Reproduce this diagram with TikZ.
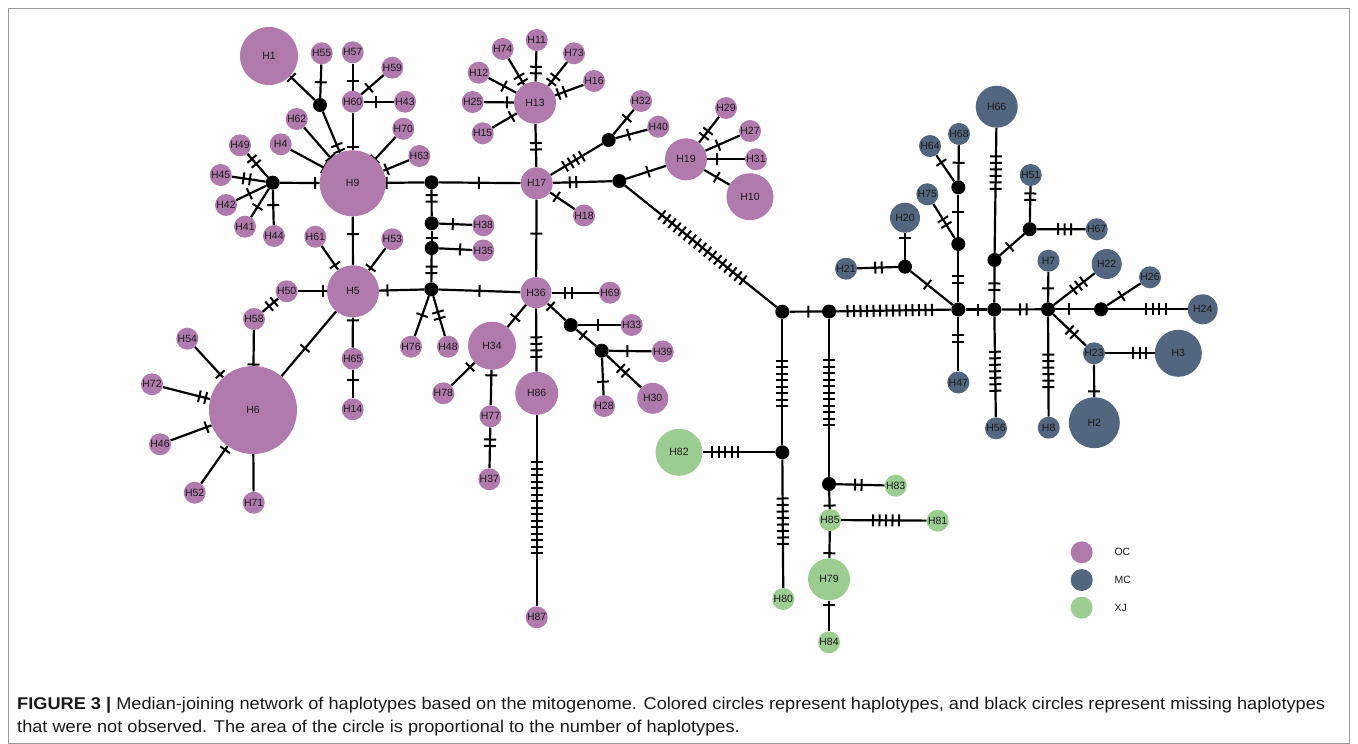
\documentclass[tikz,border=0pt]{standalone}
\usepackage{fontspec}
\setmainfont{Liberation Sans}
\newfontfamily\capfamily[FakeStretch=1.07]{Liberation Sans}
\usetikzlibrary{calc,backgrounds}
\definecolor{ocpurple}{HTML}{B07AAD}
\definecolor{mcblue}{HTML}{52667F}
\definecolor{xjgreen}{HTML}{9ACD8F}
\definecolor{framegray}{HTML}{9A9A9A}
\definecolor{darktext}{HTML}{1A1A1A}
\newcommand{\hapfont}{\fontsize{10.5}{12}\selectfont}
\newcommand{\capfont}{\capfamily\fontsize{17}{23}\selectfont}
\newcommand{\tickgap}{6.5pt}
\newcommand{\ticklen}{6pt}
% edge between two haplotypes with #3 mutation ticks centred at fraction #4
\newcommand{\mutedge}[4]{%
  \draw[link] (#1) -- (#2);
  \ifnum#3>0
    \foreach \k in {1,...,#3}{
      \coordinate (tk) at ($(#1)!#4!(#2)$);
      \coordinate (tk) at ($(tk)!{(\k-(#3+1)/2)*\tickgap}!(#2)$);
      \draw[mutation] ($(tk)!\ticklen!90:(#2)$) -- ($(tk)!\ticklen!-90:(#2)$);
    }
  \fi
}

\begin{document}
\begin{tikzpicture}[
    x=1pt, y=-1pt,
    every node/.style={font=\hapfont, text=darktext},
    hap/.style={circle, inner sep=0pt, minimum size=22pt},
    oc/.style={hap, fill=ocpurple},
    mc/.style={hap, fill=mcblue},
    xj/.style={hap, fill=xjgreen},
    miss/.style={circle, fill=black, inner sep=0pt, minimum size=14pt},
    link/.style={line width=2.2pt, black},
    mutation/.style={line width=2pt, black},
]
\useasboundingbox (0,0) rectangle (1358,744);
\draw[framegray, line width=0.8pt] (8.5,8.5) rectangle (1349.5,743.5);

% --- OC: H9 cluster ---
\node[oc, minimum size=58pt] (H1) at (269,56) {H1};
\node[oc] (H55) at (321.7,53.3) {H55};
\node[oc] (H57) at (352.7,52.3) {H57};
\node[oc] (H59) at (392.3,67.7) {H59};
\node[oc] (H60) at (352.7,101.7) {H60};
\node[oc] (H43) at (405,101.7) {H43};
\node[oc] (H62) at (296.7,119) {H62};
\node[oc] (H70) at (403.3,128.7) {H70};
\node[oc] (H4) at (280.7,144.3) {H4};
\node[oc] (H49) at (240,145.3) {H49};
\node[oc] (H63) at (419.3,156) {H63};
\node[oc] (H45) at (220.7,175) {H45};
\node[oc, minimum size=66pt] (H9) at (352.7,183.3) {H9};
\node[oc] (H42) at (226,205) {H42};
\node[oc] (H41) at (245,226.7) {H41};
\node[oc] (H44) at (274,236) {H44};

% --- OC: H5 / H6 cluster ---
\node[oc] (H61) at (315.3,236.7) {H61};
\node[oc] (H53) at (392.3,239.3) {H53};
\node[oc, minimum size=52pt] (H5) at (353,291.3) {H5};
\node[oc] (H50) at (286.7,291.3) {H50};
\node[oc] (H58) at (254,319) {H58};
\node[oc] (H76) at (411,346.7) {H76};
\node[oc] (H48) at (448,346.7) {H48};
\node[oc] (H54) at (187.3,338.7) {H54};
\node[oc] (H65) at (352.7,358.7) {H65};
\node[oc] (H72) at (152,384.3) {H72};
\node[oc, minimum size=88pt] (H6) at (253,410) {H6};
\node[oc] (H78) at (443.3,393.3) {H78};
\node[oc] (H14) at (352.7,409.3) {H14};
\node[oc] (H46) at (160,444.3) {H46};
\node[oc] (H52) at (194.7,492.7) {H52};
\node[oc] (H71) at (253.7,502.7) {H71};

% --- OC: H13 / H17 / H19 ---
\node[oc] (H11) at (536.7,40) {H11};
\node[oc] (H74) at (502.7,49) {H74};
\node[oc] (H73) at (574,53.3) {H73};
\node[oc] (H12) at (478.7,72.7) {H12};
\node[oc] (H16) at (594,81) {H16};
\node[oc] (H25) at (472.7,102) {H25};
\node[oc, minimum size=42pt] (H13) at (535,102.7) {H13};
\node[oc] (H15) at (482.7,133.3) {H15};
\node[oc] (H32) at (641,101) {H32};
\node[oc] (H40) at (658.3,126.7) {H40};
\node[oc, minimum size=42pt] (H19) at (686,159.3) {H19};
\node[oc] (H29) at (726,108) {H29};
\node[oc] (H27) at (750,131) {H27};
\node[oc] (H31) at (756,159.3) {H31};
\node[oc, minimum size=47pt] (H10) at (750,196.7) {H10};
\node[oc, minimum size=32pt] (H17) at (536.7,183.3) {H17};
\node[oc] (H18) at (584,215.5) {H18};
\node[oc] (H38) at (483.3,225.3) {H38};
\node[oc] (H35) at (483.3,250.5) {H35};

% --- OC: H36 cluster ---
\node[oc, minimum size=31pt] (H36) at (536,292.7) {H36};
\node[oc] (H69) at (610,292.7) {H69};
\node[oc] (H33) at (631.7,325) {H33};
\node[oc, minimum size=48pt] (H34) at (492,345.7) {H34};
\node[oc] (H39) at (662.7,351.5) {H39};
\node[oc, minimum size=43pt] (H86) at (536.7,393.3) {H86};
\node[oc] (H28) at (604,406) {H28};
\node[oc, minimum size=31pt] (H30) at (652.7,398.3) {H30};
\node[oc] (H77) at (490.5,416.3) {H77};
\node[oc] (H37) at (489.3,479.3) {H37};
\node[oc] (H87) at (536.7,617.3) {H87};

% --- XJ ---
\node[xj, minimum size=47pt] (H82) at (679,452.3) {H82};
\node[xj] (H83) at (895.7,485.7) {H83};
\node[xj] (H85) at (830,520) {H85};
\node[xj] (H81) at (937.7,520.7) {H81};
\node[xj, minimum size=42pt] (H79) at (829,579.3) {H79};
\node[xj] (H80) at (783.3,599) {H80};
\node[xj] (H84) at (829,642.3) {H84};

% --- MC ---
\node[mc, minimum size=42pt] (H66) at (996.7,106.7) {H66};
\node[mc] (H68) at (959,134) {H68};
\node[mc] (H64) at (930,146) {H64};
\node[mc] (H51) at (1030.7,175) {H51};
\node[mc] (H75) at (927.3,194.3) {H75};
\node[mc, minimum size=30pt] (H20) at (905,217.7) {H20};
\node[mc] (H7) at (1048.5,260.7) {H7};
\node[mc] (H21) at (846,268.7) {H21};
\node[mc] (H67) at (1096.7,229.3) {H67};
\node[mc, minimum size=30pt] (H22) at (1106.7,264) {H22};
\node[mc] (H26) at (1150,277.3) {H26};
\node[mc, minimum size=30pt] (H24) at (1202.7,309.3) {H24};
\node[mc] (H23) at (1094,353.3) {H23};
\node[mc, minimum size=47pt] (H3) at (1178.3,353.3) {H3};
\node[mc] (H47) at (958.3,382.5) {H47};
\node[mc] (H56) at (996,428.3) {H56};
\node[mc] (H8) at (1048.7,427.7) {H8};
\node[mc, minimum size=51pt] (H2) at (1094.3,422.7) {H2};

% --- missing (median) haplotypes ---
\node[miss] (m1) at (320,105) {};
\node[miss] (m2) at (272.7,182.7) {};
\node[miss] (m3) at (431.5,182.3) {};
\node[miss] (m7) at (431.7,223.3) {};
\node[miss] (m8) at (431.7,248) {};
\node[miss] (m4) at (431.3,289.3) {};
\node[miss] (m5) at (608.7,140) {};
\node[miss] (m6) at (619.3,181) {};
\node[miss] (m9) at (570.7,325) {};
\node[miss] (m10) at (601.7,350.7) {};
\node[miss] (m11) at (782.3,311.7) {};
\node[miss] (m12) at (829,311.5) {};
\node[miss] (m13) at (958.3,309.5) {};
\node[miss] (m14) at (782.3,452.3) {};
\node[miss] (m15) at (829,484) {};
\node[miss] (m16) at (958.3,187.3) {};
\node[miss] (m17) at (1029.7,229.2) {};
\node[miss] (m18) at (958.3,244) {};
\node[miss] (m19) at (994.5,260) {};
\node[miss] (m20) at (905,266.7) {};
\node[miss] (m21) at (994.3,309.5) {};
\node[miss] (m22) at (1048,309.3) {};
\node[miss] (m23) at (1101,309.3) {};

% --- Edges with mutation ticks ---
\begin{scope}[on background layer]
% H9 cluster
\mutedge{H1}{m1}{1}{0.44}
\mutedge{H55}{m1}{1}{0.56}
\mutedge{m1}{H9}{2}{0.55}
\mutedge{H57}{H60}{1}{0.58}
\mutedge{H59}{H60}{1}{0.59}
\mutedge{H60}{H43}{1}{0.44}
\mutedge{H60}{H9}{1}{0.55}
\mutedge{H62}{H9}{1}{0.6}
\mutedge{H4}{H9}{1}{0.6}
\mutedge{H70}{H9}{1}{0.56}
\mutedge{H63}{H9}{1}{0.49}
\mutedge{m2}{H9}{1}{0.53}
\mutedge{H49}{m2}{2}{0.43}
\mutedge{H45}{m2}{2}{0.5}
\mutedge{H42}{m2}{1}{0.5}
\mutedge{H41}{m2}{1}{0.45}
\mutedge{H44}{m2}{1}{0.58}
\mutedge{H9}{m3}{1}{0.43}
\mutedge{H9}{H5}{1}{0.47}
% central spine
\mutedge{m3}{m7}{2}{0.39}
\mutedge{m7}{m8}{1}{0.6}
\mutedge{m8}{m4}{2}{0.53}
\mutedge{m7}{H38}{1}{0.41}
\mutedge{m8}{H35}{1}{0.55}
\mutedge{m3}{H17}{1}{0.45}
\mutedge{H5}{m4}{1}{0.44}
\mutedge{m4}{H36}{1}{0.46}
\mutedge{m4}{H76}{1}{0.45}
\mutedge{m4}{H48}{2}{0.45}
% H5 / H6
\mutedge{H61}{H5}{1}{0.52}
\mutedge{H53}{H5}{1}{0.55}
\mutedge{H50}{H5}{1}{0.55}
\mutedge{H58}{H50}{2}{0.54}
\mutedge{H5}{H6}{1}{0.48}
\mutedge{H5}{H65}{1}{0.43}
\mutedge{H65}{H14}{1}{0.42}
\mutedge{H58}{H6}{1}{0.5}
\mutedge{H54}{H6}{1}{0.5}
\mutedge{H72}{H6}{2}{0.5}
\mutedge{H46}{H6}{1}{0.5}
\mutedge{H52}{H6}{1}{0.52}
\mutedge{H6}{H71}{0}{0.5}
% H13 / H17 / H19
\mutedge{H11}{H13}{2}{0.48}
\mutedge{H74}{H13}{2}{0.56}
\mutedge{H73}{H13}{2}{0.53}
\mutedge{H16}{H13}{2}{0.55}
\mutedge{H12}{H13}{1}{0.45}
\mutedge{H25}{H13}{1}{0.55}
\mutedge{H15}{H13}{1}{0.55}
\mutedge{H13}{H17}{2}{0.54}
\mutedge{H17}{m5}{4}{0.51}
\mutedge{m5}{H32}{1}{0.56}
\mutedge{m5}{H40}{1}{0.4}
\mutedge{H17}{m6}{2}{0.44}
\mutedge{m6}{H19}{1}{0.43}
\mutedge{H17}{H18}{1}{0.42}
\mutedge{H17}{H36}{1}{0.46}
\mutedge{H19}{H29}{2}{0.5}
\mutedge{H19}{H27}{1}{0.5}
\mutedge{H19}{H31}{1}{0.44}
\mutedge{H19}{H10}{1}{0.48}
\mutedge{m6}{m11}{17}{0.51}
% H36 cluster
\mutedge{H36}{H69}{2}{0.44}
\mutedge{H36}{m9}{1}{0.42}
\mutedge{m9}{H33}{1}{0.44}
\mutedge{m9}{m10}{1}{0.4}
\mutedge{m10}{H39}{1}{0.42}
\mutedge{m10}{H28}{1}{0.56}
\mutedge{m10}{H30}{2}{0.42}
\mutedge{H36}{H34}{1}{0.47}
\mutedge{H36}{H86}{4}{0.54}
\mutedge{H34}{H78}{1}{0.45}
\mutedge{H34}{H77}{1}{0.42}
\mutedge{H77}{H37}{2}{0.42}
\mutedge{H86}{H87}{15}{0.51}
% XJ
\mutedge{m11}{m12}{1}{0.56}
\mutedge{m11}{m14}{8}{0.51}
\mutedge{H82}{m14}{5}{0.45}
\mutedge{m14}{H80}{8}{0.47}
\mutedge{m12}{m15}{11}{0.47}
\mutedge{m15}{H83}{2}{0.44}
\mutedge{m15}{H85}{1}{0.6}
\mutedge{H85}{H81}{5}{0.52}
\mutedge{H85}{H79}{1}{0.56}
\mutedge{H79}{H84}{1}{0.41}
\mutedge{m12}{m13}{14}{0.47}
% MC
\mutedge{m13}{m18}{2}{0.46}
\mutedge{m18}{m16}{1}{0.57}
\mutedge{m16}{H68}{1}{0.46}
\mutedge{m16}{H64}{1}{0.6}
\mutedge{m18}{H75}{2}{0.44}
\mutedge{m13}{m20}{1}{0.58}
\mutedge{m20}{H20}{1}{0.58}
\mutedge{m20}{H21}{2}{0.45}
\mutedge{m13}{H47}{2}{0.4}
\mutedge{m13}{m21}{1}{0.55}
\mutedge{m21}{m19}{2}{0.46}
\mutedge{m19}{H66}{6}{0.57}
\mutedge{m19}{m17}{1}{0.43}
\mutedge{m17}{H51}{2}{0.6}
\mutedge{m17}{H67}{3}{0.52}
\mutedge{m21}{H56}{7}{0.52}
\mutedge{m21}{m22}{2}{0.54}
\mutedge{m22}{H7}{1}{0.43}
\mutedge{m22}{H22}{3}{0.52}
\mutedge{m22}{m23}{1}{0.4}
\mutedge{m23}{H26}{1}{0.42}
\mutedge{m23}{H24}{4}{0.54}
\mutedge{m22}{H8}{6}{0.52}
\mutedge{m22}{H23}{2}{0.52}
\mutedge{H23}{H3}{3}{0.54}
\mutedge{H23}{H2}{1}{0.55}
\end{scope}

% --- Legend ---
\node[oc] (legOC) at (1081.7,552.3) {};
\node[mc] (legMC) at (1081.7,580) {};
\node[xj] (legXJ) at (1081.7,607.7) {};
\node[anchor=west] (txtOC) at (1111,552.3) {OC};
\node[anchor=west] (txtMC) at (1111,580) {MC};
\node[anchor=west] (txtXJ) at (1111,607.7) {XJ};

% --- Caption ---
\node[anchor=base west, font=\capfont, align=left, inner sep=0pt] (caption) at (17,732)
  {\textbf{FIGURE 3 |} Median-joining network of haplotypes based on the mitogenome. Colored circles represent haplotypes, and black circles represent missing haplotypes\\
   that were not observed. The area of the circle is proportional to the number of haplotypes.};

\end{tikzpicture}
\end{document}
